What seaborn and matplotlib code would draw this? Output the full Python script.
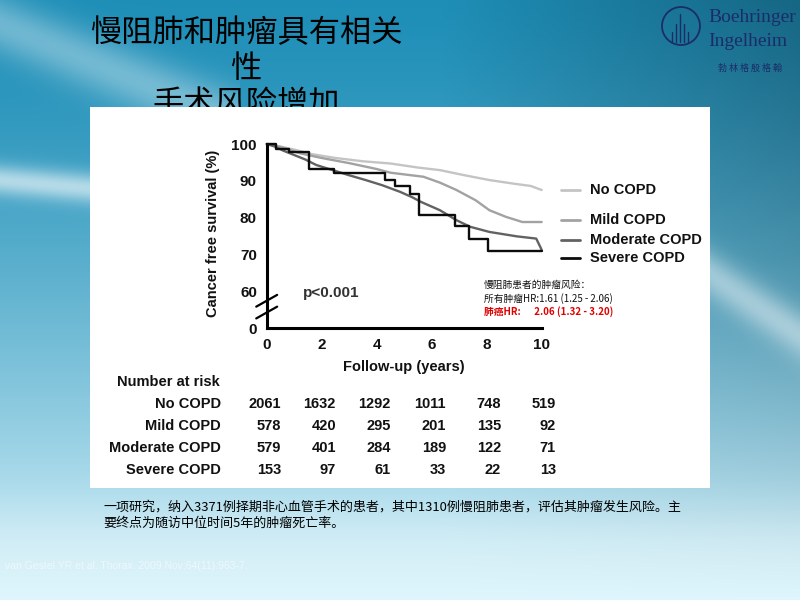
import numpy as np
import matplotlib
matplotlib.use("Agg")
import matplotlib.pyplot as plt
from matplotlib.patches import Ellipse
from matplotlib.transforms import blended_transform_factory
import pandas as pd
import seaborn as sns

sns.set_theme(style="white")
plt.rcParams['font.family'] = ['Liberation Sans', 'Noto Sans CJK SC', 'DejaVu Sans']

# ---- data ----
groups = ["No COPD", "Mild COPD", "Moderate COPD", "Severe COPD"]
colors = ["#c4c4c4", "#a2a2a2", "#626262", "#0c0c0c"]

no_t = [0, 0.5, 1.0, 1.6, 2.5, 3.5, 4.5, 5.5, 6.3, 7.2, 8.1, 9.0, 9.6, 10]
no_v = [100, 99.3, 98.5, 97.3, 96.2, 95.3, 94.7, 93.6, 92.9, 91.5, 90.2, 89.2, 88.6, 87.5]

mild_t = [0, 0.5, 1.2, 2.0, 3.0, 4.0, 4.5, 5.7, 6.3, 6.9, 7.6, 8.1, 8.7, 9.3, 10]
mild_v = [100, 99.2, 97.5, 96.2, 94.8, 93.2, 92.2, 91.1, 89.5, 87.5, 84.7, 82.0, 80.2, 78.8, 78.8]

mod_t = [0, 0.3, 0.6, 1.0, 1.4, 1.8, 2.4, 3.0, 3.6, 4.2, 4.85, 5.3, 5.6, 6.3, 6.9, 7.4, 8.1, 9.1, 9.8, 9.95, 10]
mod_v = [100, 99.3, 98.2, 97.0, 95.8, 94.3, 92.9, 91.5, 90.2, 88.8, 87.0, 85.5, 84.3, 82.0, 79.3, 77.5, 76.1, 74.9, 74.3, 72.0, 71.2]

sev_t = [0, 0.35, 0.8, 1.55, 2.45, 4.3, 4.65, 5.2, 5.55, 6.85, 7.35, 8.05, 10]
sev_v = [100, 98.7, 97.8, 93.3, 92.0, 90.3, 88.7, 86.3, 80.6, 77.8, 74.2, 70.9, 70.9]

risk_years = [0, 2, 4, 6, 8, 10]
risk_no = [2061, 1632, 1292, 1011, 748, 519]
risk_mild = [578, 420, 295, 201, 135, 92]
risk_mod = [579, 401, 284, 189, 122, 71]
risk_sev = [153, 97, 61, 33, 22, 13]

y_ticks = [50, 60, 70, 80, 90, 100]
y_tick_labels = ["0", "60", "70", "80", "90", "100"]
x_ticks = [0, 2, 4, 6, 8, 10]

title_lines = ["慢阻肺和肿瘤具有相关", "性", "手术风险增加"]
hr_lines = ["慢阻肺患者的肿瘤风险：", "所有肿瘤HR:1.61 (1.25 - 2.06)", "肺癌HR:      2.06 (1.32 - 3.20)"]
caption = ["一项研究，纳入3371例择期非心血管手术的患者，其中1310例慢阻肺患者，评估其肿瘤发生风险。主",
           "要终点为随访中位时间5年的肿瘤死亡率。"]
footnote = "van Gestel YR et al. Thorax. 2009 Nov;64(11):963-7."

W, H = 800, 600


def px(x, y):
    return x / W, 1 - y / H


fig = plt.figure(figsize=(8, 6), dpi=100)

# ---- slide background ----
yy, xx = np.mgrid[0:1:600j, 0:1:800j]
top = np.array([0.12, 0.56, 0.72])
bot = np.array([0.86, 0.96, 0.99])
t = np.clip(yy, 0, 1) ** 1.4
img = top * (1 - t)[..., None] + bot * t[..., None]
dark = np.clip((xx - 0.55) / 0.45, 0, 1) * (1 - yy) * 0.28
img = img * (1 - dark[..., None])
# light swooshes
sw = np.exp(-((yy - (0.04 + 0.55 * xx)) / 0.05) ** 2) * (xx < 0.3) * 0.35
sw += np.exp(-((yy - (0.30 + 0.12 * xx)) / 0.025) ** 2) * (xx < 0.2) * 0.6
sw += np.exp(-((yy - (0.45 + 0.9 * (xx - 0.88))) / 0.04) ** 2) * (xx > 0.86) * 0.45
sw += np.exp(-((yy - 0.92) / 0.08) ** 2) * 0.25
sw = np.clip(sw, 0, 0.9)
img = img * (1 - sw[..., None]) + sw[..., None]
bg = fig.add_axes([0, 0, 1, 1], zorder=-1)
bg.imshow(np.clip(img, 0, 1), aspect="auto", extent=[0, 1, 0, 1])
bg.axis("off")

# ---- title (partly hidden by the white panel) ----
for i, line in enumerate(title_lines):
    fig.text(*px(246, 33 + 36 * i), line, ha="center", va="center", fontsize=22.5,
             family=["Noto Sans CJK SC"], color="black", zorder=1)

# ---- logo ----
logo_c = "#1b2d68"
fig.patches.append(Ellipse(px(681, 26), 38 / W, 38 / H, transform=fig.transFigure, fill=False,
                           edgecolor=logo_c, linewidth=1.3, zorder=1))
for k, h in zip([-9, -5, -1, 3, 7], [10, 18, 28, 18, 10]):
    fig.lines.append(plt.Line2D([(681 + k) / W] * 2, [1 - 42 / H, 1 - (42 - h) / H],
                                transform=fig.transFigure, color=logo_c, lw=1.0))
fig.text(*px(708, 17), "Boehringer", ha="left", va="center", fontsize=14,
         family=["Liberation Serif"], color=logo_c, zorder=1)
fig.text(*px(708, 41), "Ingelheim", ha="left", va="center", fontsize=14,
         family=["Liberation Serif"], color=logo_c, zorder=1)
fig.text(*px(750, 68), "勃 林 格 殷 格 翰", ha="center", va="center", fontsize=6.5,
         family=["Noto Sans CJK SC"], color="#1b2d68", zorder=1)

# ---- white panel ----
panel = fig.add_axes([90 / W, 1 - 488 / H, 620 / W, 381 / H], zorder=2)
panel.set_facecolor("white")
panel.set_xticks([])
panel.set_yticks([])
for s in panel.spines.values():
    s.set_visible(False)

# ---- survival chart ----
ax = fig.add_axes([266.7 / W, 1 - 328 / H, 275 / W, 184 / H], zorder=3)
ax.patch.set_alpha(0)
curves = [(no_t, no_v, "default"), (mild_t, mild_v, "default"),
          (mod_t, mod_v, "default"), (sev_t, sev_v, "steps-post")]
for (tt, vv, ds), g, c in zip(curves, groups, colors):
    df = pd.DataFrame({"t": tt, "v": vv})
    sns.lineplot(data=df, x="t", y="v", ax=ax, color=c, linewidth=1.7,
                 drawstyle=ds, clip_on=False, zorder=3 if g == "Severe COPD" else 2)

ax.set_xlim(0, 10)
ax.set_ylim(50, 100)
ax.set_xticks(x_ticks)
ax.set_xticklabels([str(v) for v in x_ticks], fontweight="bold", fontsize=11)
ax.set_yticks(y_ticks)
ax.set_yticklabels(y_tick_labels, fontweight="bold", fontsize=11)
ax.tick_params(direction="out", length=5, width=2, color="black", labelcolor="#111111", pad=2)
ax.set_xlabel("")
ax.set_ylabel("")
for s in ["top", "right"]:
    ax.spines[s].set_visible(False)
for s in ["left", "bottom"]:
    ax.spines[s].set_linewidth(2.2)
    ax.spines[s].set_color("black")

# axis break marks
for yb in [54.2, 57.4]:
    ax.plot([-0.38, 0.38], [yb - 1.6, yb + 1.6], color="black", lw=1.6, clip_on=False)

fig.text(*px(213, 233), "Cancer free survival (%)", rotation=90, ha="center", va="center",
         fontsize=10.5, fontweight="bold", color="#111111", zorder=4)
fig.text(*px(404, 367), "Follow-up (years)", ha="center", va="center",
         fontsize=10.5, fontweight="bold", color="#111111", zorder=4)
fig.text(*px(303, 293), "p<0.001", ha="left", va="center",
         fontsize=11, fontweight="bold", color="#333333", zorder=4)

# legend
leg_y = [190, 220, 240, 258]
for g, c, yv in zip(groups, colors, leg_y):
    fig.lines.append(plt.Line2D([561 / W, 580 / W], [1 - yv / H] * 2,
                                transform=fig.transFigure, color=c, lw=2.0, zorder=4))
    fig.text(*px(590, yv), g, ha="left", va="center", fontsize=10.5,
             fontweight="bold", color="#111111", zorder=4)

# hazard ratio note
for i, line in enumerate(hr_lines):
    fig.text(*px(484, 285 + 13.5 * i), line, ha="left", va="center", fontsize=7,
             family=["Noto Sans CJK SC"], color="#e00000" if i == 2 else "#111111",
             fontweight="bold" if i == 2 else "normal", zorder=4)

# number at risk table
tr = blended_transform_factory(ax.transData, fig.transFigure)
fig.text(*px(220, 382), "Number at risk", ha="right", va="center", fontsize=10.5,
         fontweight="bold", color="#111111", zorder=4)
rows = [risk_no, risk_mild, risk_mod, risk_sev]
for r, (g, vals) in enumerate(zip(groups, rows)):
    yv = 1 - (404 + 22 * r) / H
    fig.text(221 / W, yv, g, ha="right", va="center", fontsize=10.5,
             fontweight="bold", color="#111111", zorder=4)
    for xv, n in zip(risk_years, vals):
        ax.text(xv + 0.52, yv, str(n), transform=tr, ha="right", va="center",
                fontsize=10.5, fontweight="bold", color="#111111", clip_on=False)

# caption and footnote
for i, line in enumerate(caption):
    fig.text(*px(103, 507 + 16 * i), line, ha="left", va="center", fontsize=9.4,
             family=["Noto Sans CJK SC"], color="black", zorder=4)
fig.text(*px(5, 566), footnote, ha="left", va="center", fontsize=7.5,
         color="white", alpha=0.55, zorder=4)

fig.savefig("out.png", dpi=100)
